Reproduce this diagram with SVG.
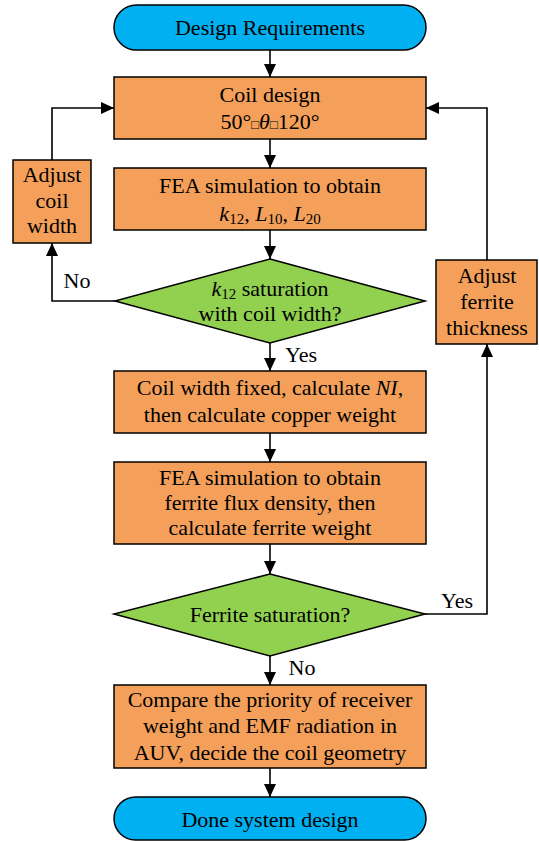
<svg xmlns="http://www.w3.org/2000/svg" width="539" height="841" viewBox="0 0 539 841">
<style>
.t{font-family:"Liberation Serif","Times New Roman",serif;font-size:22px;fill:#000;text-anchor:middle}
.box{fill:#F4A05A;stroke:#000;stroke-width:1.5}
.term{fill:#00B0F0;stroke:#000;stroke-width:1.5}
.dia{fill:#92D050;stroke:#000;stroke-width:1.5}
.c{fill:none;stroke:#000;stroke-width:1.6;marker-end:url(#ah)}
.i{font-style:italic}
.s{font-size:15px}
.q{font-size:13px}
</style>
<defs>
<marker id="ah" markerUnits="userSpaceOnUse" markerWidth="13" markerHeight="12" refX="13" refY="6" orient="auto">
<path d="M0,0 L13,6 L0,12 z" fill="#000"/>
</marker>
</defs>
<g id="connectors">
<path class="c" d="M270,50 V77"/>
<path class="c" d="M270,139 V168"/>
<path class="c" d="M270,230 V259"/>
<path class="c" d="M270,343 V371"/>
<path class="c" d="M270,433 V462"/>
<path class="c" d="M270,544 V574"/>
<path class="c" d="M270,656 V685"/>
<path class="c" d="M270,768 V797"/>
<path class="c" d="M115,301 H52 V243"/>
<path class="c" d="M52,160 V108 H114"/>
<path class="c" d="M425,614 H487 V344"/>
<path class="c" d="M487,260 V108 H426"/>
<text class="t" x="77" y="288">No</text>
<text class="t" x="301" y="362">Yes</text>
<text class="t" x="457" y="608">Yes</text>
<text class="t" x="302" y="675">No</text>
</g>
<g id="start">
<rect class="term" x="114" y="5" width="312" height="45" rx="22.5"/>
<text class="t" x="270" y="35">Design Requirements</text>
</g>
<g id="coil-design">
<rect class="box" x="114" y="77" width="312" height="62"/>
<text class="t" x="270" y="102">Coil design</text>
<text class="t" x="270" y="129">50°<tspan class="q">□</tspan><tspan class="i">θ</tspan><tspan class="q">□</tspan>120°</text>
</g>
<g id="fea1">
<rect class="box" x="114" y="168" width="312" height="62"/>
<text class="t" x="270" y="193">FEA simulation to obtain</text>
<text class="t" x="270" y="221"><tspan class="i">k</tspan><tspan class="s" dy="3">12</tspan><tspan dy="-3">, </tspan><tspan class="i">L</tspan><tspan class="s" dy="3">10</tspan><tspan dy="-3">, </tspan><tspan class="i">L</tspan><tspan class="s" dy="3">20</tspan></text>
</g>
<g id="adjust-coil">
<rect class="box" x="13" y="160" width="78" height="83"/>
<text class="t" x="52" y="182">Adjust</text>
<text class="t" x="52" y="208">coil</text>
<text class="t" x="52" y="233">width</text>
</g>
<g id="decision1">
<polygon class="dia" points="270,259 425,301 270,343 115,301"/>
<text class="t" x="270" y="296"><tspan class="i">k</tspan><tspan class="s" dy="3">12</tspan><tspan dy="-3"> saturation</tspan></text>
<text class="t" x="270" y="321">with coil width?</text>
</g>
<g id="adjust-ferrite">
<rect class="box" x="436" y="260" width="101" height="84"/>
<text class="t" x="487" y="283">Adjust</text>
<text class="t" x="487" y="309">ferrite</text>
<text class="t" x="487" y="335">thickness</text>
</g>
<g id="coil-fixed">
<rect class="box" x="114" y="371" width="312" height="62"/>
<text class="t" x="270" y="395">Coil width fixed, calculate <tspan class="i">NI</tspan>,</text>
<text class="t" x="270" y="422">then calculate copper weight</text>
</g>
<g id="fea2">
<rect class="box" x="114" y="462" width="312" height="82"/>
<text class="t" x="270" y="485">FEA simulation to obtain</text>
<text class="t" x="270" y="510">ferrite flux density, then</text>
<text class="t" x="270" y="535">calculate ferrite weight</text>
</g>
<g id="decision2">
<polygon class="dia" points="270,574 425,614 270,656 114,614"/>
<text class="t" x="270" y="622">Ferrite saturation?</text>
</g>
<g id="compare">
<rect class="box" x="114" y="685" width="312" height="83"/>
<text class="t" x="270" y="707">Compare the priority of receiver</text>
<text class="t" x="270" y="733">weight and EMF radiation in</text>
<text class="t" x="270" y="760">AUV, decide the coil geometry</text>
</g>
<g id="done">
<rect class="term" x="114" y="797" width="312" height="43" rx="21.5"/>
<text class="t" x="270" y="827">Done system design</text>
</g>
</svg>
